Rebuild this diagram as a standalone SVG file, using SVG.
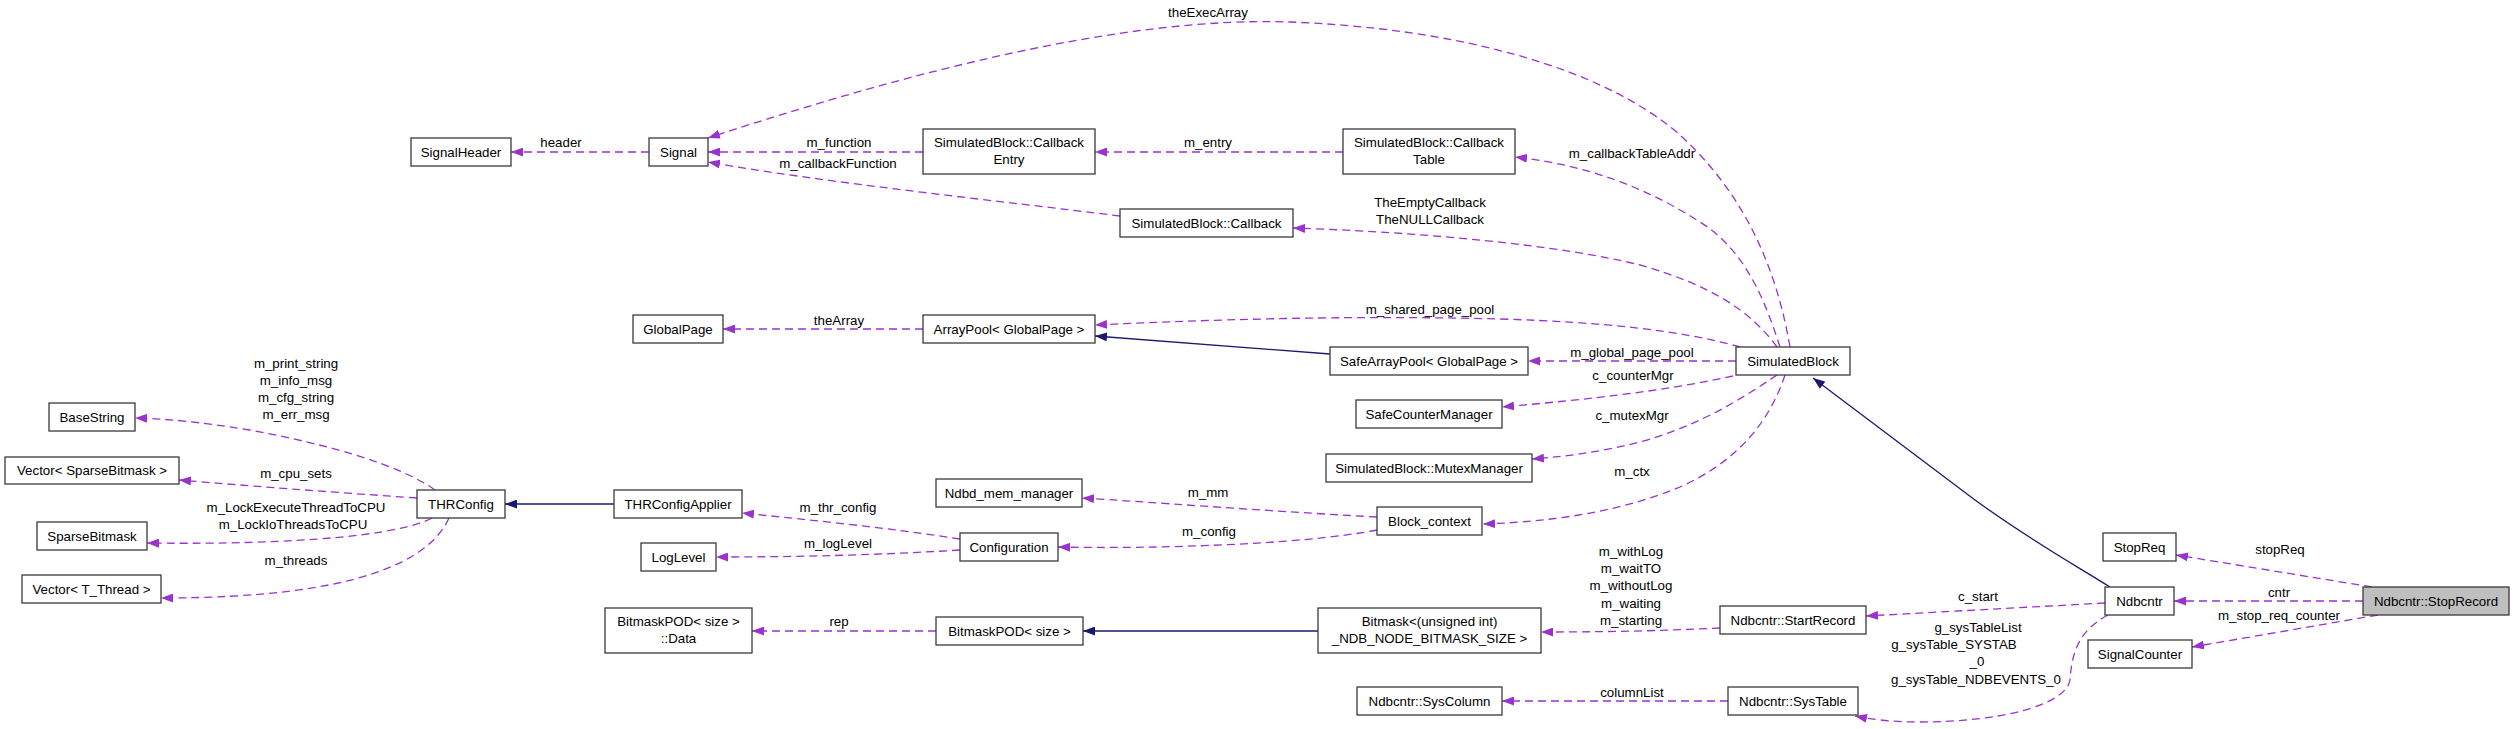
<svg xmlns="http://www.w3.org/2000/svg" width="2515" height="729" viewBox="0 0 2515 729">
<style>
text{font-family:"Liberation Sans",Arial,Helvetica,sans-serif;font-size:13.3px;fill:#000;text-anchor:middle}
.n rect{fill:#fff;stroke:#3a3a3a;stroke-width:1.3}
.u{fill:none;stroke:#9a32cd;stroke-width:1.3;stroke-dasharray:8,5;marker-end:url(#ap)}
.i{fill:none;stroke:#191970;stroke-width:1.3;marker-end:url(#ai)}
</style>
<defs>
<marker id="ap" viewBox="0 0 12 9" refX="12" refY="4.5" markerWidth="12" markerHeight="9" markerUnits="userSpaceOnUse" orient="auto"><path d="M0,0 L12,4.5 L0,9 z" fill="#9a32cd"/></marker>
<marker id="ai" viewBox="0 0 12 9" refX="12" refY="4.5" markerWidth="12" markerHeight="9" markerUnits="userSpaceOnUse" orient="auto"><path d="M0,0 L12,4.5 L0,9 z" fill="#191970"/></marker>
</defs>
<rect width="2515" height="729" fill="#fff"/>
<g id="connectors">
<path class="u" d="M649,152 L511,152"/><text x="561" y="147">header</text>
<path class="u" d="M923,152 L708,152"/><text x="839" y="147">m_function</text>
<path class="u" d="M1120,216 C1000,201 820,182 708,162"/><text x="838" y="168">m_callbackFunction</text>
<path class="u" d="M1790,347 C1775,260 1740,190 1680,135 C1600,65 1450,28 1290,22 C1120,16 900,75 708,138"/><text x="1208" y="17">theExecArray</text>
<path class="u" d="M1343,152 L1095,152"/><text x="1208" y="147">m_entry</text>
<path class="u" d="M1780,347 C1765,300 1745,250 1700,222 C1650,190 1590,165 1515,157"/><text x="1632" y="158">m_callbackTableAddr</text>
<path class="u" d="M1777,347 C1750,310 1710,285 1640,265 C1560,245 1420,232 1293,228"/><text x="1430" y="207">TheEmptyCallback</text><text x="1430" y="224">TheNULLCallback</text>
<path class="u" d="M923,329 L723,329"/><text x="839" y="325">theArray</text>
<path class="u" d="M1740,347 C1680,330 1600,322 1500,319 C1350,315 1200,320 1095,325"/><text x="1430" y="314">m_shared_page_pool</text>
<path class="i" d="M1330,354 L1095,336"/>
<path class="u" d="M1736,361 L1528,361"/><text x="1632" y="357">m_global_page_pool</text>
<path class="u" d="M1733,376 C1660,392 1580,400 1502,407"/><text x="1633" y="380">c_counterMgr</text>
<path class="u" d="M1777,375 C1740,400 1700,425 1640,442 C1600,452 1570,456 1532,459"/><text x="1632" y="420">c_mutexMgr</text>
<path class="u" d="M1785,375 C1770,420 1740,460 1680,487 C1620,512 1550,522 1483,524"/><text x="1632" y="476">m_ctx</text>
<path class="u" d="M1377,517 C1250,510 1150,502 1082,498"/><text x="1208" y="497">m_mm</text>
<path class="u" d="M1377,530 C1300,545 1150,549 1058,547"/><text x="1209" y="536">m_config</text>
<path class="u" d="M960,539 C890,528 810,520 742,513"/><text x="838" y="512">m_thr_config</text>
<path class="u" d="M960,550 C880,555 800,557 716,557"/><text x="838" y="548">m_logLevel</text>
<path class="i" d="M614,504 L505,504"/>
<path class="u" d="M435,490 C400,465 330,445 250,430 C200,422 170,419 135,418"/><text x="296" y="368">m_print_string</text><text x="296" y="385">m_info_msg</text><text x="296" y="402">m_cfg_string</text><text x="296" y="419">m_err_msg</text>
<path class="u" d="M417,498 C330,492 250,486 179,480"/><text x="296" y="478">m_cpu_sets</text>
<path class="u" d="M432,518 C400,535 300,545 147,543"/><text x="296" y="512">m_LockExecuteThreadToCPU</text><text x="293" y="529">m_LockIoThreadsToCPU</text>
<path class="u" d="M449,518 C430,560 360,598 161,598"/><text x="296" y="565">m_threads</text>
<path class="u" d="M936,631 L752,631"/><text x="839" y="626">rep</text>
<path class="i" d="M1318,631 L1083,631"/>
<path class="u" d="M1720,628 C1660,631 1600,632 1541,632"/><text x="1631" y="556">m_withLog</text><text x="1631" y="573">m_waitTO</text><text x="1631" y="590">m_withoutLog</text><text x="1631" y="608">m_waiting</text><text x="1631" y="625">m_starting</text>
<path class="u" d="M2105,603 L1866,616"/><text x="1978" y="601">c_start</text>
<path class="u" d="M2108,615 C2080,630 2072,650 2070,680 C2066,705 2000,722 1920,722 C1890,722 1870,719 1855,716"/><text x="1978" y="632">g_sysTableList</text><text x="1954" y="649">g_sysTable_SYSTAB</text><text x="1977" y="666">_0</text><text x="1976" y="684">g_sysTable_NDBEVENTS_0</text>
<path class="u" d="M1728,701 L1502,701"/><text x="1632" y="697">columnList</text>
<path class="u" d="M2372,587 L2176,555"/><text x="2280" y="554">stopReq</text>
<path class="u" d="M2363,601 L2174,601"/><text x="2279" y="597">cntr</text>
<path class="u" d="M2378,615 L2192,647"/><text x="2279" y="620">m_stop_req_counter</text>
<path class="i" d="M2110,587 C2070,562 2030,540 1975,500 L1813,378"/>
</g>
<g id="SignalHeader" class="n"><rect x="411" y="138" width="100" height="28"/><text x="461" y="157">SignalHeader</text></g>
<g id="Signal" class="n"><rect x="649" y="138" width="59" height="28"/><text x="678.5" y="157">Signal</text></g>
<g id="CallbackEntry" class="n"><rect x="923" y="129" width="172" height="45"/><text x="1009" y="147">SimulatedBlock::Callback</text><text x="1009" y="164">Entry</text></g>
<g id="CallbackTable" class="n"><rect x="1343" y="129" width="172" height="45"/><text x="1429" y="147">SimulatedBlock::Callback</text><text x="1429" y="164">Table</text></g>
<g id="Callback" class="n"><rect x="1120" y="209" width="173" height="28"/><text x="1206.5" y="228">SimulatedBlock::Callback</text></g>
<g id="GlobalPage" class="n"><rect x="633" y="315" width="90" height="28"/><text x="678" y="334">GlobalPage</text></g>
<g id="ArrayPool" class="n"><rect x="923" y="315" width="172" height="28"/><text x="1009" y="334">ArrayPool&lt; GlobalPage &gt;</text></g>
<g id="SafeArrayPool" class="n"><rect x="1330" y="347" width="198" height="28"/><text x="1429" y="366">SafeArrayPool&lt; GlobalPage &gt;</text></g>
<g id="SimulatedBlock" class="n"><rect x="1736" y="347" width="114" height="28"/><text x="1793" y="366">SimulatedBlock</text></g>
<g id="SafeCounterManager" class="n"><rect x="1356" y="400" width="146" height="28"/><text x="1429" y="419">SafeCounterManager</text></g>
<g id="MutexManager" class="n"><rect x="1326" y="454" width="206" height="28"/><text x="1429" y="473">SimulatedBlock::MutexManager</text></g>
<g id="Ndbd_mem_manager" class="n"><rect x="936" y="479" width="146" height="28"/><text x="1009" y="498">Ndbd_mem_manager</text></g>
<g id="Block_context" class="n"><rect x="1377" y="507" width="105" height="28"/><text x="1429.5" y="526">Block_context</text></g>
<g id="BaseString" class="n"><rect x="49" y="403" width="86" height="28"/><text x="92" y="422">BaseString</text></g>
<g id="VectorSparseBitmask" class="n"><rect x="5" y="457" width="174" height="27"/><text x="92" y="475">Vector&lt; SparseBitmask &gt;</text></g>
<g id="THRConfig" class="n"><rect x="417" y="490" width="88" height="28"/><text x="461" y="509">THRConfig</text></g>
<g id="THRConfigApplier" class="n"><rect x="614" y="490" width="128" height="28"/><text x="678" y="509">THRConfigApplier</text></g>
<g id="SparseBitmask" class="n"><rect x="37" y="522" width="110" height="28"/><text x="92" y="541">SparseBitmask</text></g>
<g id="VectorTThread" class="n"><rect x="22" y="575" width="139" height="28"/><text x="91.5" y="594">Vector&lt; T_Thread &gt;</text></g>
<g id="LogLevel" class="n"><rect x="641" y="543" width="75" height="28"/><text x="678.5" y="562">LogLevel</text></g>
<g id="Configuration" class="n"><rect x="960" y="533" width="98" height="28"/><text x="1009" y="552">Configuration</text></g>
<g id="BitmaskPODData" class="n"><rect x="605" y="608" width="147" height="45"/><text x="678.5" y="626">BitmaskPOD&lt; size &gt;</text><text x="678.5" y="643">::Data</text></g>
<g id="BitmaskPOD" class="n"><rect x="936" y="617" width="147" height="28"/><text x="1009.5" y="636">BitmaskPOD&lt; size &gt;</text></g>
<g id="Bitmask" class="n"><rect x="1318" y="608" width="223" height="45"/><text x="1429.5" y="626">Bitmask&lt;(unsigned int)</text><text x="1429.5" y="643">_NDB_NODE_BITMASK_SIZE &gt;</text></g>
<g id="StartRecord" class="n"><rect x="1720" y="606" width="146" height="28"/><text x="1793" y="625">Ndbcntr::StartRecord</text></g>
<g id="SysColumn" class="n"><rect x="1357" y="687" width="145" height="28"/><text x="1429.5" y="706">Ndbcntr::SysColumn</text></g>
<g id="SysTable" class="n"><rect x="1728" y="687" width="130" height="28"/><text x="1793" y="706">Ndbcntr::SysTable</text></g>
<g id="StopReq" class="n"><rect x="2103" y="533" width="73" height="28"/><text x="2139.5" y="552">StopReq</text></g>
<g id="Ndbcntr" class="n"><rect x="2105" y="587" width="69" height="28"/><text x="2139.5" y="606">Ndbcntr</text></g>
<g id="SignalCounter" class="n"><rect x="2088" y="640" width="104" height="28"/><text x="2140" y="659">SignalCounter</text></g>
<g id="StopRecord" class="n"><rect x="2363" y="587" width="146" height="28" style="fill:#bfbfbf"/><text x="2436" y="606">Ndbcntr::StopRecord</text></g>
</svg>
